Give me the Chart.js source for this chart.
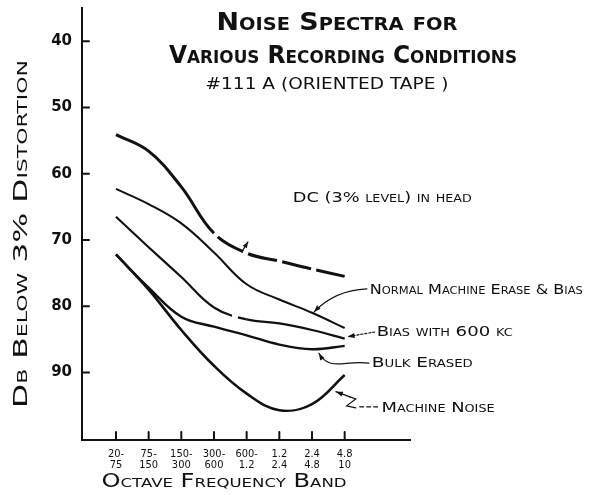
<!DOCTYPE html>
<html lang="en">
<head>
<meta charset="UTF-8">
<title>Noise Spectra for Various Recording Conditions</title>
<script src="https://cdn.jsdelivr.net/npm/chart.js"></script>
<style>
  html, body { margin:0; padding:0; background:#fff; }
  #wrap { width:595px; height:495px; }
</style>
</head>
<body>
<div id="wrap"><canvas id="chart" width="595" height="495"></canvas></div>
<script>
// octave bands, two-line tick labels
const bandTop = ['20-', '75-', '150-', '300-', '600-', '1.2', '2.4', '4.8'];
const bandBottom = ['75', '150', '300', '600', '1.2', '2.4', '4.8', '10'];
const yTicks = [40, 50, 60, 70, 80, 90];

// db below 3% distortion, one value per band
const dcInHead     = [54.1, 56.6, 62.0, 69.0, 72.0, 73.2, 74.4, 75.5];
const normalErase  = [62.3, 64.6, 67.5, 71.9, 76.7, 79.0, 81.0, 83.3];
const bias600kc    = [66.5, 71.1, 75.6, 80.2, 82.0, 82.6, 83.6, 84.9];
const bulkErased   = [72.2, 77.2, 81.6, 83.1, 84.4, 85.8, 86.5, 86.0];
const machineNoise = [72.2, 77.5, 83.6, 89.0, 93.2, 95.7, 94.8, 90.4];

// hand-lettered notes, placed in data units (band index, db)
const notes = [
  { text: 'DC (3% level) in head',       x: 5.41, y: 63.8, w: 179 },
  { text: 'Normal Machine Erase & Bias', x: 7.77, y: 77.6, w: 213 },
  { text: 'Bias with 600 kc',            x: 7.98, y: 84.0, w: 136 },
  { text: 'Bulk Erased',                 x: 7.83, y: 88.6, w: 101 },
  { text: 'Machine Noise',               x: 8.13, y: 95.4, w: 113 }
];

const pts = arr => arr.map((v, i) => ({ x: i, y: v }));
const ink = '#111';

function fitText(ctx, text, x, y, w, font, align) {
  ctx.save();
  ctx.font = font;
  if ('fontVariantCaps' in ctx) ctx.fontVariantCaps = 'small-caps';
  const m = ctx.measureText(text).width;
  ctx.translate(x, y);
  ctx.scale(w / m, 1);
  ctx.textBaseline = 'middle';
  ctx.textAlign = align || 'left';
  ctx.fillStyle = ink;
  ctx.fillText(text, 0, 0);
  ctx.restore();
}

function arrowHead(ctx, from, to, len, wid) {
  const a = Math.atan2(to[1] - from[1], to[0] - from[0]);
  ctx.beginPath();
  ctx.moveTo(to[0], to[1]);
  ctx.lineTo(to[0] - len * Math.cos(a) + wid * Math.sin(a), to[1] - len * Math.sin(a) - wid * Math.cos(a));
  ctx.lineTo(to[0] - len * Math.cos(a) - wid * Math.sin(a), to[1] - len * Math.sin(a) + wid * Math.cos(a));
  ctx.closePath();
  ctx.fill();
}

const decor = {
  id: 'decor',
  afterDraw(chart) {
    const ctx = chart.ctx, xs = chart.scales.x, ys = chart.scales.y, a = chart.chartArea;
    const P = (xv, yv) => [xs.getPixelForValue(xv), ys.getPixelForValue(yv)];
    ctx.save();
    ctx.strokeStyle = ink; ctx.fillStyle = ink; ctx.lineCap = 'round';

    // inward tick marks
    ctx.lineWidth = 2;
    yTicks.forEach(v => {
      const py = ys.getPixelForValue(v);
      ctx.beginPath(); ctx.moveTo(a.left, py); ctx.lineTo(a.left + 7, py); ctx.stroke();
    });
    bandTop.forEach((_, i) => {
      const px = xs.getPixelForValue(i);
      ctx.beginPath(); ctx.moveTo(px, a.bottom); ctx.lineTo(px, a.bottom - 8); ctx.stroke();
    });

    // titles
    fitText(ctx, 'Noise Spectra for', 337, 23, 241, 'small-caps bold 25px "DejaVu Sans"', 'center');
    fitText(ctx, 'Various Recording Conditions', 343, 56, 348, 'small-caps bold 25px "DejaVu Sans"', 'center');
    fitText(ctx, '#111 A (ORIENTED TAPE )', 327, 85, 243, '16px "DejaVu Sans"', 'center');
    fitText(ctx, 'Octave Frequency Band', 224, 482, 245, 'small-caps 19px "DejaVu Sans"', 'center');
    ctx.save();
    ctx.translate(22, 234);
    ctx.rotate(-Math.PI / 2);
    fitText(ctx, 'Db Below 3% Distortion', 0, 0, 348, 'small-caps 20px "DejaVu Sans"', 'center');
    ctx.restore();

    // notes
    notes.forEach(n => {
      const p = P(n.x, n.y);
      fitText(ctx, n.text, p[0], p[1], n.w, 'small-caps 14px "DejaVu Sans"', 'left');
    });

    // leaders
    ctx.lineWidth = 1.2;
    let s, c, e, c2;
    // dc arrow
    s = P(3.85, 71.8); e = P(4.04, 70.3);
    ctx.beginPath(); ctx.moveTo(s[0], s[1]); ctx.lineTo(e[0], e[1]); ctx.stroke();
    arrowHead(ctx, s, e, 6, 2.5);
    // normal erase
    s = P(7.68, 77.4); c = P(6.70, 77.6); e = P(6.06, 80.9);
    ctx.beginPath(); ctx.moveTo(s[0], s[1]); ctx.quadraticCurveTo(c[0], c[1], e[0], e[1]); ctx.stroke();
    arrowHead(ctx, c, e, 7, 2.5);
    // bias 600 kc (dotted)
    s = P(7.92, 83.9); e = P(7.09, 84.6);
    ctx.setLineDash([2, 2]);
    ctx.beginPath(); ctx.moveTo(s[0], s[1]); ctx.lineTo(e[0], e[1]); ctx.stroke();
    ctx.setLineDash([]);
    arrowHead(ctx, s, e, 7, 2.5);
    // bulk erased
    s = P(7.74, 88.6); c = P(7.00, 88.1); c2 = P(6.54, 89.9); e = P(6.21, 87.1);
    ctx.beginPath(); ctx.moveTo(s[0], s[1]); ctx.bezierCurveTo(c[0], c[1], c2[0], c2[1], e[0], e[1]); ctx.stroke();
    arrowHead(ctx, c2, e, 7, 2.5);
    // machine noise
    s = P(7.16, 93.7); e = P(6.73, 92.9);
    ctx.beginPath(); ctx.moveTo(s[0], s[1]); ctx.lineTo(e[0], e[1]); ctx.stroke();
    arrowHead(ctx, s, e, 7, 2.5);
    ctx.beginPath();
    [[7.16, 93.7], [7.34, 94.0], [7.06, 95.05], [7.34, 95.35]].forEach((q, i) => {
      const p = P(q[0], q[1]);
      if (i) ctx.lineTo(p[0], p[1]); else ctx.moveTo(p[0], p[1]);
    });
    ctx.stroke();
    s = P(7.46, 95.2); e = P(8.01, 95.2);
    ctx.setLineDash([4, 3]);
    ctx.beginPath(); ctx.moveTo(s[0], s[1]); ctx.lineTo(e[0], e[1]); ctx.stroke();
    ctx.restore();
  }
};

const line = (data, width, segment) => ({
  data: pts(data), borderColor: ink, borderWidth: width, pointRadius: 0,
  tension: 0.4, fill: false, segment: segment || {}
});

new Chart(document.getElementById('chart'), {
  type: 'line',
  data: {
    datasets: [
      line(dcInHead, 3, {
        borderDash: c => c.p0DataIndex >= 3 ? [30, 5] : undefined,
        borderDashOffset: c => c.p0DataIndex >= 3 ? 30 : undefined
      }),
      line(normalErase, 2),
      line(bias600kc, 2.2, { borderDash: c => c.p0DataIndex === 3 ? [20, 6] : undefined }),
      line(bulkErased, 2.4),
      line(machineNoise, 2.6)
    ]
  },
  options: {
    responsive: false,
    animation: false,
    layout: { padding: { top: 8, right: 185, left: 0, bottom: 0 } },
    plugins: { legend: { display: false }, tooltip: { enabled: false } },
    scales: {
      x: {
        type: 'linear', min: -1.04, max: 9,
        grid: { display: false, drawTicks: false },
        border: { display: true, color: ink, width: 2 },
        afterBuildTicks: s => { s.ticks = bandTop.map((_, i) => ({ value: i })); },
        afterFit: s => { s.height = 55; s.paddingLeft = 0; s.paddingRight = 0; },
        ticks: {
          autoSkip: false, maxRotation: 0, padding: 9, color: ink,
          font: { family: '"DejaVu Sans Condensed", "DejaVu Sans"', size: 11, lineHeight: 0.95 },
          callback: v => [bandTop[v], bandBottom[v]]
        }
      },
      y: {
        type: 'linear', reverse: true, min: 35, max: 100.2,
        grid: { display: false, drawTicks: false },
        border: { display: true, color: ink, width: 2 },
        afterBuildTicks: s => { s.ticks = yTicks.map(v => ({ value: v })); },
        afterFit: s => { s.width = 82; s.paddingTop = 0; s.paddingBottom = 0; },
        ticks: {
          padding: 10, color: ink,
          font: { family: '"DejaVu Sans"', size: 15, weight: 'bold' }
        }
      }
    }
  },
  plugins: [decor]
});
</script>
</body>
</html>
